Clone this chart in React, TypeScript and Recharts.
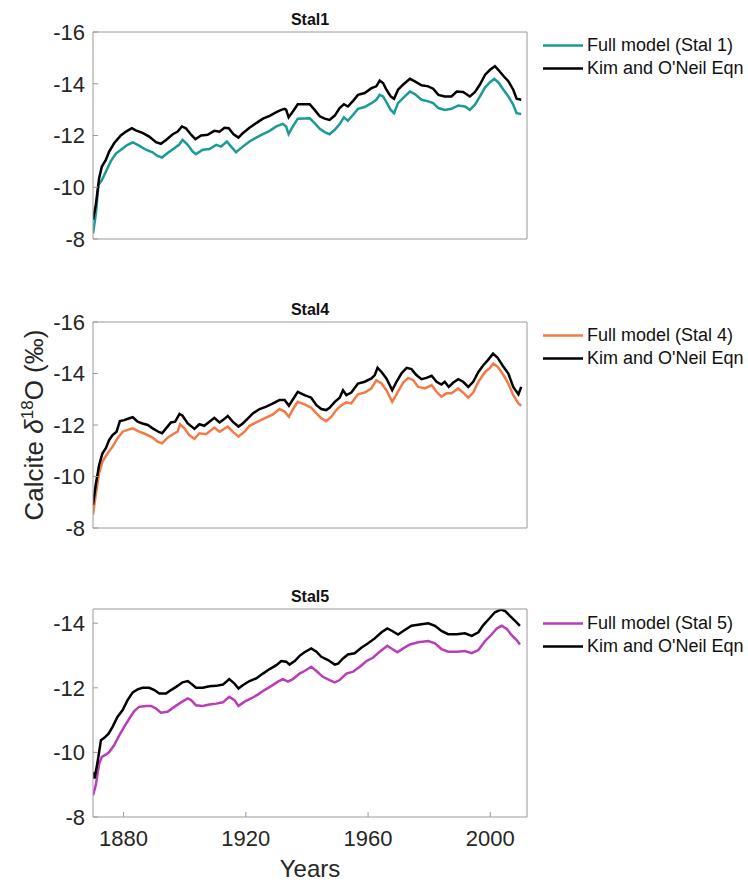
import { LineChart, Line, XAxis, YAxis, Legend, Label } from 'recharts'

const xTicks = [1880, 1920, 1960, 2000]
const yTicksWide = [-16, -14, -12, -10, -8]
const yTicksStal5 = [-14, -12, -10, -8]

// [year, calcite d18O]
const stal1Model = [
  [1870.0, -8.22], [1870.9, -8.93], [1871.8, -10.1], [1872.9, -10.28], [1874.2, -10.6],
  [1875.8, -11.0], [1877.5, -11.3], [1879.7, -11.5], [1881.3, -11.64], [1883.0, -11.73],
  [1885.1, -11.61], [1887.3, -11.45], [1889.5, -11.35], [1891.1, -11.21], [1892.6, -11.15],
  [1894.4, -11.32], [1896.6, -11.51], [1898.3, -11.66], [1899.3, -11.83], [1901.0, -11.64],
  [1902.6, -11.38], [1903.7, -11.28], [1905.9, -11.45], [1908.1, -11.48], [1910.3, -11.64],
  [1911.9, -11.57], [1913.8, -11.77], [1915.2, -11.57], [1916.8, -11.35], [1919.0, -11.57],
  [1921.2, -11.77], [1923.4, -11.92], [1925.6, -12.05], [1927.8, -12.18], [1930.0, -12.35],
  [1932.1, -12.45], [1933.2, -12.35], [1934.0, -12.05], [1935.4, -12.35], [1937.0, -12.65],
  [1939.2, -12.66], [1940.9, -12.67], [1942.5, -12.48], [1944.2, -12.26], [1945.8, -12.13],
  [1947.4, -12.05], [1949.1, -12.22], [1950.7, -12.44], [1952.1, -12.7], [1953.4, -12.57],
  [1955.1, -12.8], [1956.7, -13.03], [1958.9, -13.1], [1961.1, -13.25], [1962.7, -13.38],
  [1963.8, -13.57], [1964.9, -13.51], [1966.0, -13.29], [1967.4, -12.99], [1968.5, -12.86],
  [1969.8, -13.25], [1971.5, -13.45], [1973.7, -13.7], [1975.3, -13.6], [1977.5, -13.38],
  [1979.7, -13.32], [1981.3, -13.25], [1983.0, -13.06], [1985.1, -12.99], [1987.3, -13.03],
  [1989.5, -13.16], [1991.7, -13.12], [1993.3, -12.99], [1995.0, -13.19], [1996.6, -13.51],
  [1998.3, -13.86], [1999.9, -14.06], [2001.3, -14.19], [2002.6, -14.06], [2004.3, -13.77],
  [2005.9, -13.51], [2007.5, -13.19], [2008.6, -12.86], [2010.1, -12.83]
]

const stal1Kim = [
  [1870.0, -8.74], [1870.9, -9.3], [1872.0, -10.35], [1872.9, -10.8], [1874.2, -11.06],
  [1875.3, -11.38], [1876.9, -11.7], [1879.1, -12.0], [1880.8, -12.15], [1882.7, -12.28],
  [1884.0, -12.2], [1886.2, -12.1], [1888.4, -11.96], [1890.6, -11.74], [1892.2, -11.68],
  [1893.9, -11.83], [1896.1, -12.05], [1897.7, -12.15], [1899.1, -12.35], [1900.4, -12.28],
  [1902.1, -12.03], [1903.5, -11.86], [1905.4, -12.0], [1907.5, -12.03], [1909.7, -12.18],
  [1911.4, -12.15], [1913.0, -12.3], [1914.4, -12.28], [1916.0, -12.05], [1917.6, -11.92],
  [1919.0, -12.09], [1921.2, -12.3], [1923.4, -12.48], [1925.6, -12.65], [1927.8, -12.76],
  [1930.0, -12.9], [1931.6, -12.99], [1932.7, -13.03], [1933.2, -12.99], [1934.0, -12.7],
  [1935.4, -12.93], [1937.0, -13.21], [1938.7, -13.21], [1940.9, -13.21], [1942.5, -12.99],
  [1944.2, -12.74], [1945.8, -12.65], [1947.4, -12.6], [1949.1, -12.77], [1950.7, -13.06],
  [1952.1, -13.21], [1953.4, -13.12], [1955.1, -13.34], [1956.7, -13.57], [1958.9, -13.64],
  [1961.1, -13.83], [1962.7, -13.9], [1963.8, -14.12], [1964.9, -14.03], [1966.0, -13.77],
  [1967.4, -13.51], [1968.5, -13.42], [1969.8, -13.77], [1971.5, -13.97], [1973.7, -14.19],
  [1975.3, -14.09], [1977.5, -13.94], [1979.7, -13.9], [1981.3, -13.81], [1983.0, -13.57],
  [1985.1, -13.51], [1987.3, -13.51], [1989.0, -13.7], [1991.1, -13.68], [1993.3, -13.51],
  [1995.0, -13.68], [1996.6, -13.97], [1998.3, -14.35], [1999.9, -14.54], [2001.5, -14.68],
  [2002.6, -14.54], [2004.3, -14.3], [2005.9, -14.1], [2007.5, -13.77], [2008.6, -13.42],
  [2010.1, -13.38]
]

const stal4Model = [
  [1870.0, -8.52], [1870.9, -9.29], [1872.0, -10.13], [1873.1, -10.58], [1874.8, -10.9],
  [1876.4, -11.16], [1878.0, -11.48], [1879.7, -11.74], [1881.3, -11.81], [1883.0, -11.87],
  [1885.1, -11.74], [1887.3, -11.64], [1889.5, -11.51], [1891.1, -11.35], [1892.6, -11.29],
  [1894.4, -11.51], [1896.6, -11.68], [1897.7, -11.74], [1898.5, -12.03], [1899.9, -11.87],
  [1901.5, -11.61], [1903.2, -11.46], [1904.8, -11.68], [1907.0, -11.64], [1909.7, -11.9],
  [1911.4, -11.74], [1914.1, -11.94], [1915.7, -11.74], [1917.6, -11.55], [1919.6, -11.74],
  [1921.2, -11.97], [1923.4, -12.1], [1926.1, -12.26], [1928.9, -12.41], [1931.0, -12.62],
  [1932.7, -12.52], [1934.1, -12.32], [1935.6, -12.65], [1937.0, -12.9], [1939.2, -12.8],
  [1941.4, -12.67], [1943.1, -12.45], [1944.7, -12.26], [1946.3, -12.15], [1948.0, -12.32],
  [1949.6, -12.58], [1951.3, -12.77], [1952.9, -12.88], [1954.5, -12.84], [1956.7, -13.19],
  [1958.9, -13.26], [1961.1, -13.42], [1962.7, -13.74], [1964.4, -13.61], [1966.0, -13.35],
  [1967.9, -12.9], [1969.6, -13.26], [1971.5, -13.65], [1973.1, -13.83], [1974.8, -13.74],
  [1976.4, -13.48], [1978.6, -13.42], [1980.8, -13.55], [1982.4, -13.29], [1984.0, -13.1],
  [1985.7, -13.23], [1987.3, -13.23], [1989.5, -13.42], [1991.1, -13.26], [1992.8, -13.06],
  [1994.4, -13.26], [1996.1, -13.68], [1998.3, -14.06], [1999.9, -14.22], [2001.0, -14.39],
  [2002.4, -14.26], [2004.3, -13.94], [2005.9, -13.61], [2007.5, -13.16], [2009.2, -12.84],
  [2010.1, -12.75]
]

const stal4Kim = [
  [1870.0, -8.9], [1870.9, -9.68], [1872.0, -10.45], [1873.1, -10.9], [1874.2, -11.1],
  [1875.3, -11.42], [1876.4, -11.61], [1877.7, -11.74], [1878.8, -12.15], [1880.2, -12.19],
  [1881.9, -12.26], [1883.0, -12.3], [1884.6, -12.13], [1886.2, -12.06], [1887.9, -12.0],
  [1889.5, -11.87], [1891.7, -11.72], [1892.6, -11.68], [1893.9, -11.87], [1895.5, -12.1],
  [1896.9, -12.13], [1898.3, -12.43], [1899.3, -12.36], [1901.0, -12.06], [1903.2, -11.85],
  [1904.8, -12.03], [1906.4, -11.97], [1908.1, -12.13], [1909.7, -12.28], [1911.4, -12.1],
  [1912.5, -12.19], [1914.1, -12.35], [1915.7, -12.13], [1917.6, -11.94], [1919.0, -12.06],
  [1920.7, -12.26], [1922.3, -12.45], [1924.5, -12.62], [1926.7, -12.71], [1928.9, -12.84],
  [1931.0, -12.97], [1932.7, -12.97], [1934.1, -12.75], [1935.6, -13.03], [1937.0, -13.29],
  [1939.2, -13.16], [1941.4, -13.06], [1943.1, -12.77], [1944.7, -12.62], [1946.3, -12.58],
  [1947.4, -12.67], [1949.1, -12.9], [1950.7, -13.06], [1951.8, -13.35], [1952.9, -13.16],
  [1954.5, -13.26], [1956.7, -13.61], [1958.9, -13.68], [1961.1, -13.81], [1962.2, -13.94],
  [1963.1, -14.22], [1964.4, -14.06], [1966.0, -13.81], [1967.9, -13.35], [1969.3, -13.68],
  [1970.9, -14.0], [1972.6, -14.22], [1974.2, -14.17], [1975.8, -13.94], [1977.5, -13.78],
  [1979.1, -13.83], [1980.8, -13.91], [1982.4, -13.68], [1984.0, -13.57], [1985.1, -13.68],
  [1986.4, -13.48], [1987.9, -13.65], [1989.5, -13.78], [1991.1, -13.68], [1992.8, -13.48],
  [1994.4, -13.68], [1996.1, -14.06], [1997.7, -14.32], [1999.2, -14.52], [2000.9, -14.77],
  [2002.4, -14.61], [2004.3, -14.26], [2005.9, -14.0], [2007.5, -13.48], [2009.2, -13.19],
  [2010.1, -13.48]
]

const stal5Model = [
  [1870.0, -8.67], [1870.9, -8.98], [1872.0, -9.65], [1872.9, -9.86], [1874.2, -9.93],
  [1875.3, -10.01], [1876.9, -10.22], [1878.6, -10.53], [1880.2, -10.79], [1881.9, -11.05],
  [1883.5, -11.28], [1885.1, -11.41], [1887.3, -11.44], [1889.0, -11.44], [1890.6, -11.36],
  [1892.2, -11.23], [1894.4, -11.26], [1896.6, -11.41], [1898.8, -11.55], [1901.0, -11.67],
  [1902.1, -11.62], [1903.7, -11.46], [1905.9, -11.44], [1908.1, -11.48], [1910.3, -11.51],
  [1912.5, -11.55], [1914.6, -11.72], [1916.3, -11.62], [1917.6, -11.44], [1919.6, -11.57],
  [1921.7, -11.67], [1923.9, -11.79], [1926.1, -11.93], [1928.4, -12.06], [1930.5, -12.19],
  [1932.1, -12.27], [1933.8, -12.19], [1935.4, -12.27], [1937.6, -12.44], [1939.2, -12.52],
  [1941.4, -12.65], [1943.1, -12.52], [1945.2, -12.34], [1947.4, -12.24], [1949.1, -12.17],
  [1950.7, -12.24], [1952.9, -12.44], [1955.1, -12.5], [1957.3, -12.65], [1959.5, -12.83],
  [1961.6, -12.93], [1963.8, -13.12], [1966.3, -13.3], [1967.9, -13.2], [1969.6, -13.1],
  [1971.5, -13.22], [1973.7, -13.34], [1976.4, -13.41], [1979.7, -13.45], [1981.9, -13.38],
  [1984.0, -13.2], [1986.2, -13.12], [1989.0, -13.12], [1991.7, -13.14], [1993.9, -13.07],
  [1996.1, -13.17], [1998.3, -13.45], [2000.4, -13.65], [2002.1, -13.84], [2003.7, -13.92],
  [2005.4, -13.82], [2007.0, -13.63], [2008.6, -13.48], [2009.7, -13.34]
]

const stal5Kim = [
  [1870.0, -9.39], [1870.5, -9.19], [1871.5, -9.7], [1872.6, -10.38], [1873.7, -10.45],
  [1875.1, -10.58], [1876.4, -10.79], [1878.0, -11.1], [1879.7, -11.31], [1881.3, -11.62],
  [1883.0, -11.86], [1884.6, -11.95], [1886.2, -12.0], [1888.4, -12.0], [1890.1, -11.93],
  [1891.7, -11.82], [1893.9, -11.82], [1895.5, -11.93], [1897.2, -12.03], [1899.3, -12.17],
  [1901.0, -12.21], [1902.1, -12.13], [1903.7, -12.0], [1905.9, -12.0], [1908.1, -12.05],
  [1910.3, -12.06], [1912.5, -12.1], [1914.6, -12.27], [1916.3, -12.13], [1917.6, -11.98],
  [1919.0, -12.08], [1921.2, -12.21], [1923.4, -12.29], [1925.6, -12.44], [1927.8, -12.58],
  [1930.0, -12.7], [1931.6, -12.83], [1933.2, -12.81], [1934.3, -12.72], [1936.0, -12.83],
  [1937.6, -12.99], [1939.2, -13.1], [1941.4, -13.22], [1943.1, -13.12], [1944.7, -12.96],
  [1946.9, -12.86], [1949.1, -12.72], [1950.2, -12.75], [1951.8, -12.91], [1953.4, -13.03],
  [1955.6, -13.07], [1957.8, -13.24], [1960.0, -13.38], [1962.2, -13.53], [1964.4, -13.72],
  [1966.3, -13.84], [1967.9, -13.76], [1969.8, -13.65], [1972.0, -13.79], [1974.2, -13.92],
  [1976.9, -13.96], [1979.7, -14.0], [1981.9, -13.92], [1984.0, -13.76], [1986.2, -13.66],
  [1989.0, -13.66], [1991.7, -13.69], [1993.9, -13.61], [1996.1, -13.72], [1997.7, -13.94],
  [1999.9, -14.17], [2001.5, -14.34], [2003.5, -14.42], [2004.8, -14.38], [2006.4, -14.23],
  [2008.1, -14.07], [2009.7, -13.92]
]

const toPoints = (rows: number[][]) => rows.map(([x, v]) => ({ x, v }))

const AXIS = '#9a9a9a'
const TEXT = '#262626'

const YLabel = (props: any) => {
  const vb = props.viewBox || {}
  const cx = 43
  const cy = (vb.y ?? 32) + (vb.height ?? 206) / 2
  return (
    <text x={cx} y={cy} transform={`rotate(-90 ${cx} ${cy})`} textAnchor='middle' fontSize={26} fill={TEXT}>
      Calcite <tspan fontStyle='italic'>δ</tspan>
      <tspan dy={-10} fontSize={17}>18</tspan>
      <tspan dy={10}>O (‰)</tspan>
    </text>
  )
}

const LegendBox = ({ payload }: any) => (
  <div style={{ fontSize: 18, lineHeight: '23px', color: '#111' }}>
    {(payload || []).map((p: any) => (
      <div key={p.value} style={{ display: 'flex', alignItems: 'center', height: 23 }}>
        <svg width={40} height={23}>
          <line x1={0} x2={40} y1={11.5} y2={11.5} stroke={p.color} strokeWidth={2.5} />
        </svg>
        <span style={{ marginLeft: 4, whiteSpace: 'nowrap' }}>{p.value}</span>
      </div>
    ))}
  </div>
)

interface PanelProps {
  top: number
  height: number
  marginTop: number
  marginBottom: number
  xAxisHeight: number
  title: string
  titleTop: number
  legendTop: number
  model: number[][]
  kim: number[][]
  modelName: string
  color: string
  yDomain: number[]
  yTicks: number[]
  showYears?: boolean
  showYLabel?: boolean
}

function Panel(p: PanelProps) {
  return (
    <div style={{ position: 'absolute', left: 0, top: p.top, width: 748, height: p.height }}>
      <div
        style={{
          position: 'absolute',
          left: 93,
          width: 434,
          top: p.titleTop,
          textAlign: 'center',
          fontWeight: 'bold',
          fontSize: 16,
          lineHeight: '18px',
          color: '#111'
        }}
      >
        {p.title}
      </div>
      <LineChart width={748} height={p.height} margin={{ top: p.marginTop, right: 220, bottom: p.marginBottom, left: 0 }}>
        <XAxis
          xAxisId='b'
          type='number'
          dataKey='x'
          domain={[1870, 2012]}
          ticks={xTicks}
          allowDataOverflow
          height={p.xAxisHeight}
          stroke={AXIS}
          tickSize={-5}
          tickMargin={18}
          tick={p.showYears ? { fontSize: 22, fill: TEXT } : false}
        >
          {p.showYears && <Label value='Years' position='insideBottom' offset={0} fontSize={24} fill={TEXT} />}
        </XAxis>
        <XAxis
          xAxisId='t'
          orientation='top'
          type='number'
          domain={[1870, 2012]}
          ticks={xTicks}
          allowDataOverflow
          height={1}
          stroke={AXIS}
          tickSize={-5}
          tick={false}
        />
        <YAxis
          yAxisId='l'
          type='number'
          domain={p.yDomain}
          ticks={p.yTicks}
          reversed
          allowDataOverflow
          width={93}
          stroke={AXIS}
          tickSize={-5}
          tickMargin={13}
          tick={{ fontSize: 22, fill: TEXT }}
        >
          {p.showYLabel && <Label content={YLabel} />}
        </YAxis>
        <YAxis
          yAxisId='r'
          orientation='right'
          type='number'
          domain={p.yDomain}
          ticks={p.yTicks}
          reversed
          allowDataOverflow
          width={1}
          stroke={AXIS}
          tickSize={-5}
          tick={false}
        />
        <Legend
          layout='horizontal'
          verticalAlign='middle'
          align='center'
          content={<LegendBox />}
          wrapperStyle={{ top: p.legendTop, left: 543, width: 205 }}
        />
        <Line
          xAxisId='b'
          yAxisId='l'
          data={toPoints(p.model)}
          dataKey='v'
          name={p.modelName}
          type='linear'
          stroke={p.color}
          strokeWidth={2.5}
          dot={false}
          isAnimationActive={false}
        />
        <Line
          xAxisId='b'
          yAxisId='l'
          data={toPoints(p.kim)}
          dataKey='v'
          name="Kim and O'Neil Eqn"
          type='linear'
          stroke='#000000'
          strokeWidth={2.5}
          dot={false}
          isAnimationActive={false}
        />
      </LineChart>
    </div>
  )
}

export default function App() {
  return (
    <div
      style={{
        position: 'absolute',
        left: 0,
        top: 0,
        width: 748,
        height: 882,
        background: '#fff',
        fontFamily: '"Liberation Sans", Arial, Helvetica, sans-serif'
      }}
    >
      <Panel
        top={0}
        height={270}
        marginTop={31}
        marginBottom={11}
        xAxisHeight={20}
        title='Stal1'
        titleTop={11}
        legendTop={33.5}
        model={stal1Model}
        kim={stal1Kim}
        modelName='Full model (Stal 1)'
        color='#1a9b95'
        yDomain={[-16, -8]}
        yTicks={yTicksWide}
      />
      <Panel
        top={290}
        height={260}
        marginTop={31}
        marginBottom={2}
        xAxisHeight={20}
        title='Stal4'
        titleTop={11}
        legendTop={33.5}
        model={stal4Model}
        kim={stal4Kim}
        modelName='Full model (Stal 4)'
        color='#f47a45'
        yDomain={[-16, -8]}
        yTicks={yTicksWide}
        showYLabel
      />
      <Panel
        top={575}
        height={307}
        marginTop={33}
        marginBottom={5}
        xAxisHeight={60}
        title='Stal5'
        titleTop={13}
        legendTop={36.5}
        model={stal5Model}
        kim={stal5Kim}
        modelName='Full model (Stal 5)'
        color='#b83db6'
        yDomain={[-14.44, -8]}
        yTicks={yTicksStal5}
        showYears
      />
    </div>
  )
}
